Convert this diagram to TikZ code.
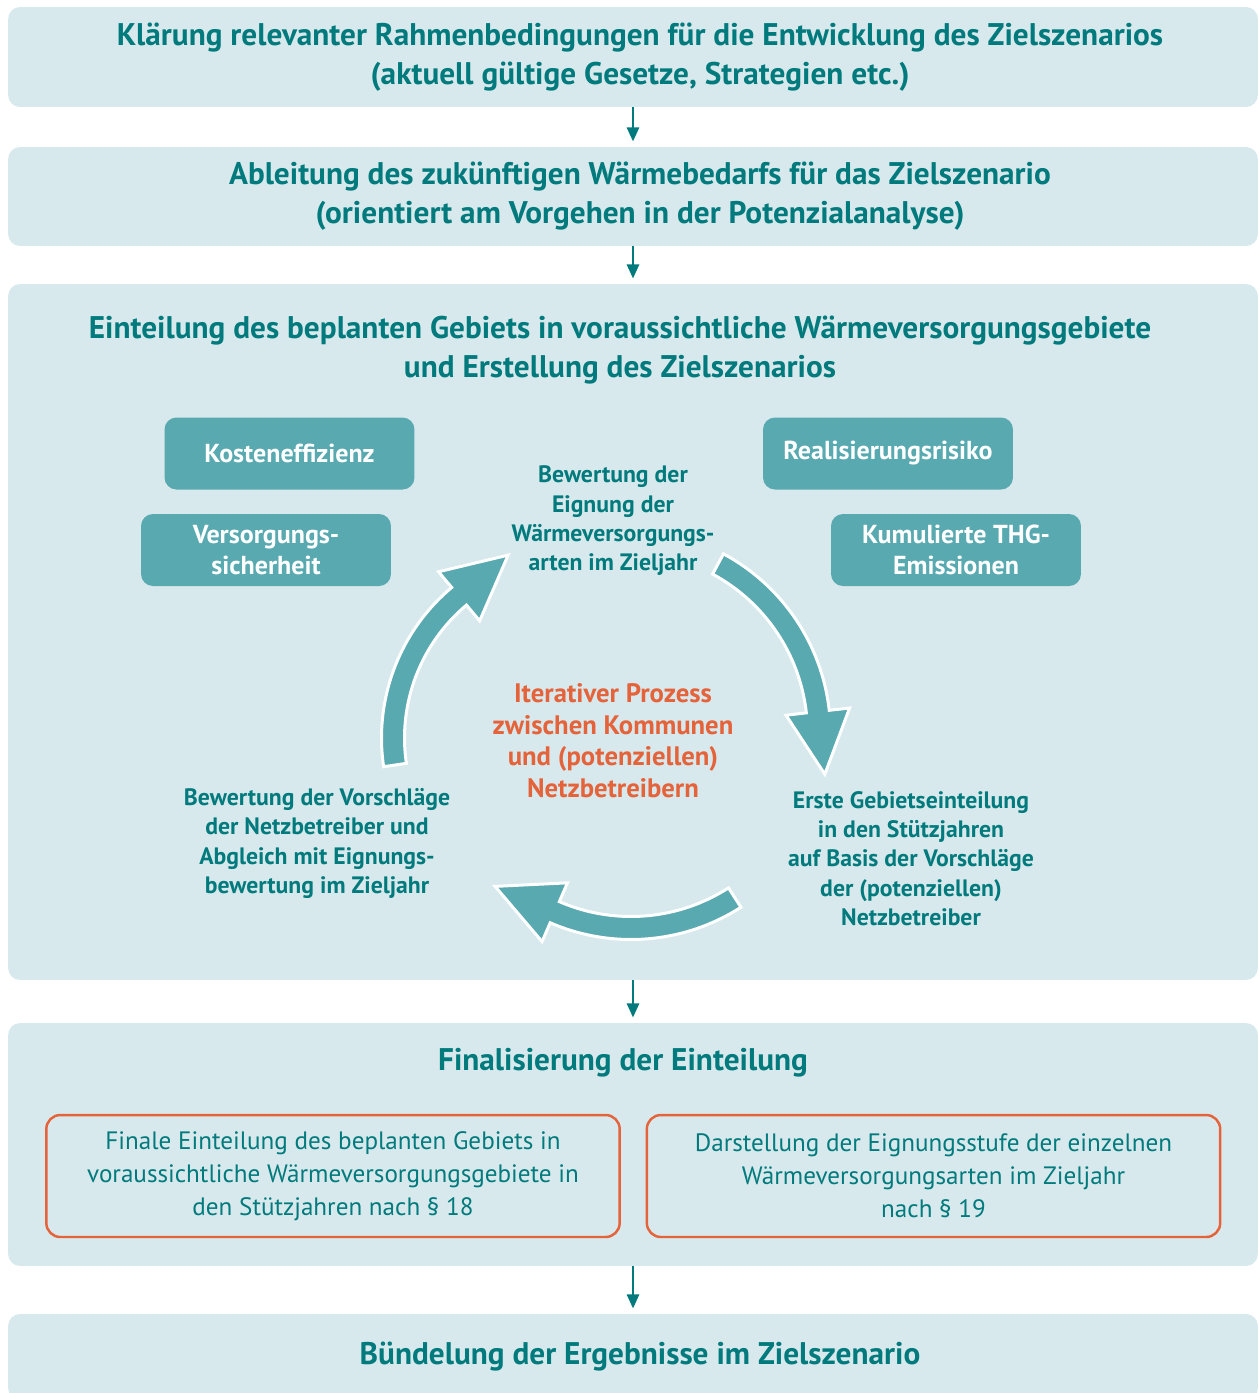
\documentclass[tikz,border=0pt]{standalone}
\usepackage{fontspec}
\setmainfont{PT Sans}
\usetikzlibrary{arrows.meta,calc}

\definecolor{panelbg}{HTML}{D7E9EC}
\definecolor{tealdark}{HTML}{007A7C}
\definecolor{tealmid}{HTML}{58A9B0}
\definecolor{orangeline}{HTML}{E5633A}

% fat curved arrow: centre, radius, start angle, head angle, head length
\newcommand{\cyclearrow}[5]{%
  \filldraw[cycle arrow]
    ($(#1)+(#3:#2+11.5)$) arc[start angle=#3, end angle=#4, radius=#2+11.5]
    -- ($(#1)+(#4:#2+32)$) -- ($(#1)+(#4:#2)+(#4+90:#5)$)
    -- ($(#1)+(#4:#2-32)$) -- ($(#1)+(#4:#2-11.5)$)
    arc[start angle=#4, end angle=#3, radius=#2-11.5] -- cycle;}

\begin{document}
\begin{tikzpicture}[
    x=0.02cm, y=-0.02cm,
    >={Triangle[width=7pt,length=8pt]},
    every node/.style={align=center, inner sep=0pt},
    panel/.style={
        fill=panelbg,
        rounded corners=6.8pt,
        minimum width=25cm
    },
    heading/.style={
        text=tealdark,
        font=\fontsize{17.8}{22}\selectfont\bfseries
    },
    criterion/.style={
        fill=tealmid,
        rounded corners=6.8pt,
        minimum width=5cm,
        minimum height=1.44cm,
        text=white,
        font=\fontsize{14.8}{17.6}\selectfont\bfseries
    },
    stepnote/.style={
        text=tealdark,
        font=\fontsize{13.5}{16.7}\selectfont\bfseries
    },
    processnote/.style={
        text=orangeline,
        font=\fontsize{15.2}{18}\selectfont\bfseries
    },
    result/.style={
        draw=orangeline,
        line width=1.4pt,
        rounded corners=8pt,
        minimum width=11.47cm,
        minimum height=2.44cm,
        text=tealdark,
        font=\fontsize{14.3}{18.7}\selectfont
    },
    flow/.style={
        ->,
        line width=1.13pt,
        draw=tealdark,
        shorten >=3pt
    },
    cycle arrow/.style={
        fill=tealmid,
        draw=white,
        line width=1.7pt,
        line join=miter
    }
]
\useasboundingbox (0,0) rectangle (1258,1393);

% panels
\node[panel, minimum height=2cm] (klaerung) at (633,57) {};
\node[panel, minimum height=1.98cm] (ableitung) at (633,196.5) {};
\node[panel, minimum height=13.92cm] (einteilung) at (633,632) {};
\node[panel, minimum height=4.86cm] (finalisierung) at (633,1144.5) {};
\node[panel, minimum height=1.72cm] (buendelung) at (633,1357) {};

\draw[flow] (klaerung) -- (ableitung);
\draw[flow] (ableitung) -- (einteilung);
\draw[flow] (einteilung) -- (finalisierung);
\draw[flow] (finalisierung) -- (buendelung);

\node[heading] (klaerungtitle) at (640,57)
    {Klärung relevanter Rahmenbedingungen für die Entwicklung des Zielszenarios\\(aktuell gültige Gesetze, Strategien etc.)};
\node[heading] (ableitungtitle) at (640,196)
    {Ableitung des zukünftigen Wärmebedarfs für das Zielszenario\\(orientiert am Vorgehen in der Potenzialanalyse)};

% iterative process
\node[heading] (einteilungtitle) at (620,350)
    {Einteilung des beplanten Gebiets in voraussichtliche Wärmeversorgungsgebiete\\und Erstellung des Zielszenarios};

\node[criterion] (kosten) at (289.5,453.5) {Kosteneffizienz};
\node[criterion] (versorgung) at (266,550) {Versorgungs-\\sicherheit};
\node[criterion] (risiko) at (888,453.5) {Realisierungsrisiko};
\node[criterion] (thg) at (956,550) {Kumulierte THG-\\Emissionen};

\cyclearrow{627,733}{192}{-61.7}{-6.4}{63}
\cyclearrow{631,736}{192}{57.3}{113.4}{65}
\cyclearrow{578,738}{185}{171.6}{230}{64}

\node[stepnote] (eignung) at (613,521)
    {Bewertung der\\Eignung der\\Wärmeversorgungs-\\arten im Zieljahr};
\node[stepnote] (erste) at (911,858.5)
    {Erste Gebietseinteilung\\in den Stützjahren\\auf Basis der Vorschläge\\der (potenziellen)\\Netzbetreiber};
\node[stepnote] (abgleich) at (317,843.5)
    {Bewertung der Vorschläge\\der Netzbetreiber und\\Abgleich mit Eignungs-\\bewertung im Zieljahr};
\node[processnote] (iterativ) at (613,740.5)
    {Iterativer Prozess\\zwischen Kommunen\\und (potenziellen)\\Netzbetreibern};

% final results
\node[heading] (finaltitle) at (623,1063) {Finalisierung der Einteilung};
\node[result] (gebiete) at (333,1176)
    {Finale Einteilung des beplanten Gebiets in\\voraussichtliche Wärmeversorgungsgebiete in\\den Stützjahren nach §~18};
\node[result] (eignungsstufe) at (933.5,1176)
    {Darstellung der Eignungsstufe der einzelnen\\Wärmeversorgungsarten im Zieljahr\\nach §~19};

\node[heading] (buendelungtitle) at (640,1357) {Bündelung der Ergebnisse im Zielszenario};
\end{tikzpicture}
\end{document}
